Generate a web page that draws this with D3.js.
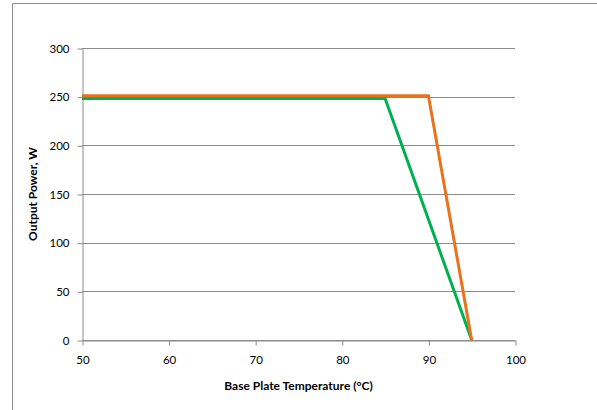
<!doctype html>
<html>
<head>
<meta charset="utf-8">
<script src="https://cdn.jsdelivr.net/npm/d3@7"></script>
<style>
  body { margin: 0; background: #fff; }
  text { font-family: Lato, "Open Sans", sans-serif; }
</style>
</head>
<body>
<div id="main"></div>
<script>
// data
var xTicks = [50, 60, 70, 80, 90, 100];
var yTicks = [0, 50, 100, 150, 200, 250, 300];
var orangeTemp = [50, 90, 95];
var orangePower = [251, 251, 0];
var greenTemp = [50, 85, 95];
var greenPower = [248, 248, 0];

var W = 597, H = 410;
var margin = {top: 48, right: 82, bottom: 70, left: 82};

var svg = d3.select('#main').append('svg')
  .attr('width', W)
  .attr('height', H);

// outer frame (chart area border, cut off at the right and bottom)
svg.append('path')
  .attr('d', 'M12.5,' + H + 'V3.5H' + W)
  .attr('fill', 'none')
  .attr('stroke', '#8c8c8c')
  .attr('stroke-width', 1);

var x = d3.scaleLinear().domain([50, 100]).range([margin.left, W - margin.right]);
var y = d3.scaleLinear().domain([0, 300]).range([H - margin.bottom, margin.top]);

// horizontal gridlines
svg.append('g')
  .selectAll('line')
  .data(yTicks)
  .enter().append('line')
  .attr('x1', x(50)).attr('x2', x(100))
  .attr('y1', function(d) { return Math.round(y(d)) + 0.5; })
  .attr('y2', function(d) { return Math.round(y(d)) + 0.5; })
  .attr('stroke', '#8c8c8c');

// y axis
var yAxis = svg.append('g')
  .attr('transform', 'translate(' + (Math.round(x(50)) + 0.5) + ',0.5)')
  .call(d3.axisLeft(y).tickValues(yTicks).tickSize(5).tickSizeOuter(0).tickPadding(8));

// x axis
var xAxis = svg.append('g')
  .attr('transform', 'translate(0.5,' + (Math.round(y(0)) + 0.5) + ')')
  .call(d3.axisBottom(x).tickValues(xTicks).tickSize(5).tickSizeOuter(0).tickPadding(10));

[xAxis, yAxis].forEach(function(a) {
  a.select('.domain').attr('stroke', '#8c8c8c');
  a.selectAll('.tick line').attr('stroke', '#8c8c8c');
  a.selectAll('.tick text')
    .attr('fill', '#000')
    .style('font-size', '11.5px')
    .style('font-family', 'Lato, "Open Sans", sans-serif');
});

var line = d3.line()
  .x(function(d) { return x(d[0]); })
  .y(function(d) { return y(d[1]); });

var green = d3.zip(greenTemp, greenPower);
var orange = d3.zip(orangeTemp, orangePower);

svg.append('path')
  .datum(green)
  .attr('d', line)
  .attr('fill', 'none')
  .attr('stroke', '#00b050')
  .attr('stroke-width', 3);

svg.append('path')
  .datum(orange)
  .attr('d', line)
  .attr('fill', 'none')
  .attr('stroke', '#e8731c')
  .attr('stroke-width', 3);

// axis titles
svg.append('text')
  .attr('x', (x(50) + x(100)) / 2)
  .attr('y', 390)
  .attr('text-anchor', 'middle')
  .style('font-size', '12px')
  .style('font-weight', 'bold')
  .text('Base Plate Temperature (°C)');

svg.append('text')
  .attr('transform', 'translate(37,' + ((y(0) + y(300)) / 2) + ') rotate(-90)')
  .attr('text-anchor', 'middle')
  .style('font-size', '12px')
  .style('font-weight', 'bold')
  .text('Output Power, W');
</script>
</body>
</html>
